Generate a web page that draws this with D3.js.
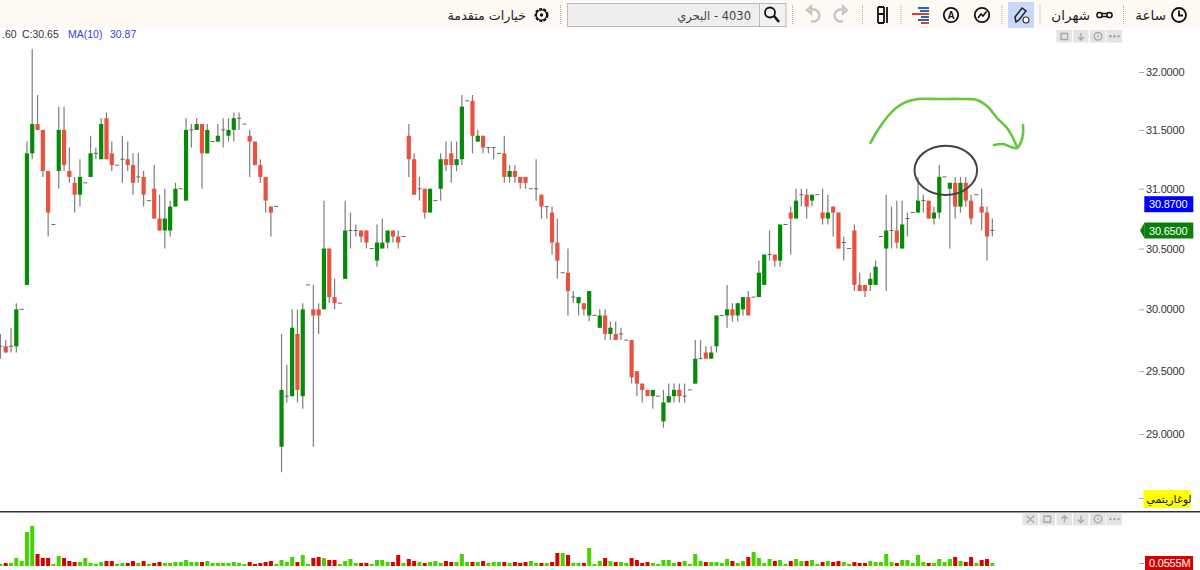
<!DOCTYPE html>
<html lang="ar">
<head>
<meta charset="utf-8">
<style>
html,body{margin:0;padding:0;background:#fff;overflow:hidden}
svg{display:block}
text{font-family:"Liberation Sans",Arial,sans-serif}
.ar{font-family:"DejaVu Sans","Noto Sans",sans-serif}
</style>
<script src="https://cdn.jsdelivr.net/npm/d3@7/dist/d3.min.js"></script>
</head>
<body>
<svg id="c" width="1200" height="570"></svg>
<script>
const priceTicks=[32,31.5,31,30.5,30,29.5,29,28.5];
const opens=[29.7,29.7,29.7,29.7,30.0,30.2,31.3,31.55,31.5,31.15,
30.7,31.15,31.5,31.15,31.05,30.95,31.05,31.1,31.3,31.25,
31.6,31.3,31.2,31.25,31.25,31.2,31.1,31.1,30.9,31.0,
30.75,30.65,30.65,30.85,31.0,30.9,31.5,31.5,31.55,31.3,
31.4,31.4,31.5,31.45,31.5,31.6,31.55,31.45,31.4,31.2,
31.1,30.85,30.85,28.9,29.3,29.3,29.8,29.3,30.2,30.0,
30.0,30.0,30.5,30.1,30.05,30.25,30.65,30.65,30.65,30.65,
30.5,30.4,30.5,30.55,30.65,30.6,30.6,31.45,31.25,31.0,
31.0,30.8,30.9,31.0,31.25,31.3,31.2,31.25,31.75,31.75,
31.4,31.45,31.35,31.35,31.3,31.3,31.1,31.15,31.1,31.1,
31.0,31.0,30.95,30.85,30.8,30.55,30.3,30.3,30.1,30.05,
30.05,29.95,29.95,29.85,29.95,29.8,29.8,29.8,29.75,29.75,
29.5,29.4,29.35,29.3,29.3,29.1,29.25,29.3,29.35,29.3,
29.35,29.4,29.6,29.65,29.6,29.7,29.95,29.95,30.0,29.95,
30.0,30.1,30.1,30.1,30.2,30.45,30.45,30.4,30.7,30.8,
30.75,30.95,30.95,30.9,30.95,30.8,30.75,30.85,30.8,30.55,
30.5,30.65,30.2,30.2,30.2,30.2,30.6,30.5,30.65,30.65,
30.5,30.75,30.8,30.8,30.9,30.9,30.75,30.8,31.1,31.0,
31.05,30.85,31.05,30.9,30.95,30.85,30.8,30.65];
const closes=[29.7,29.65,29.7,30.0,30.0,31.3,31.55,31.5,31.15,30.8,
30.7,31.5,31.2,31.1,30.95,31.1,31.05,31.3,31.3,31.55,
31.25,31.2,31.2,31.25,31.2,31.05,31.1,30.95,30.9,30.75,
30.65,30.75,30.85,31.0,31.0,31.5,31.5,31.55,31.3,31.5,
31.4,31.45,31.5,31.5,31.6,31.6,31.55,31.4,31.2,31.1,
30.9,30.8,30.85,29.35,29.3,29.85,29.35,30.0,30.2,29.95,
29.95,30.5,30.1,30.05,30.05,30.65,30.65,30.65,30.6,30.55,
30.5,30.55,30.55,30.65,30.6,30.55,30.6,31.25,30.95,31.0,
30.8,31.0,30.9,31.25,31.2,31.2,31.25,31.7,31.75,31.45,
31.45,31.35,31.35,31.35,31.3,31.1,31.15,31.1,31.05,31.05,
31.0,31.0,30.85,30.85,30.55,30.4,30.3,30.15,30.1,30.1,
30.0,30.15,29.95,29.95,29.8,29.85,29.75,29.8,29.75,29.45,
29.4,29.35,29.3,29.35,29.3,29.25,29.3,29.35,29.3,29.3,
29.35,29.6,29.6,29.6,29.65,29.95,29.95,30.0,29.95,30.05,
30.1,29.95,30.1,30.3,30.45,30.45,30.4,30.7,30.7,30.75,
30.9,30.95,30.85,30.95,30.95,30.75,30.8,30.8,30.5,30.55,
30.5,30.2,30.15,30.15,30.25,30.35,30.6,30.65,30.65,30.55,
30.7,30.75,30.8,30.9,30.9,30.75,30.8,31.1,31.1,31.05,
30.85,31.05,30.9,30.75,30.95,30.8,30.6,30.65];
const highs=[29.8,29.75,29.85,30.05,30.0,31.4,32.2,31.8,31.5,31.15,
30.7,31.7,31.7,31.35,31.1,31.25,31.05,31.45,31.35,31.6,
31.65,31.4,31.2,31.45,31.4,31.3,31.3,31.15,30.9,31.2,
30.95,31.0,30.9,31.05,31.0,31.6,31.55,31.6,31.55,31.55,
31.4,31.55,31.6,31.6,31.65,31.65,31.55,31.5,31.4,31.25,
31.1,30.85,30.85,29.8,29.55,30.0,30.0,30.05,30.2,30.2,
30.05,30.9,30.5,30.25,30.05,30.9,30.8,30.7,30.65,30.65,
30.5,30.7,30.75,30.65,30.65,30.65,30.6,31.55,31.3,31.1,
31.0,31.0,30.9,31.3,31.4,31.4,31.4,31.8,31.75,31.8,
31.5,31.45,31.35,31.35,31.3,31.45,31.2,31.2,31.1,31.1,
31.0,31.25,30.95,30.85,30.85,30.75,30.3,30.5,30.15,30.1,
30.05,30.15,29.95,30.0,30.0,29.9,29.9,29.85,29.75,29.75,
29.5,29.4,29.35,29.35,29.3,29.35,29.4,29.4,29.4,29.4,
29.35,29.75,29.75,29.7,29.7,29.95,29.95,30.2,30.05,30.05,
30.1,30.15,30.1,30.4,30.45,30.65,30.45,30.7,30.7,30.85,
31.0,31.0,31.0,30.95,30.95,31.0,30.95,30.85,30.8,30.6,
30.5,30.7,30.3,30.2,30.3,30.4,30.6,30.95,30.85,30.9,
30.9,30.8,30.8,31.1,30.95,30.9,30.85,31.2,31.1,31.05,
31.1,31.1,31.1,30.95,30.95,31.0,30.85,30.75];
const lows=[29.6,29.65,29.65,29.65,30.0,30.2,31.25,31.5,31.1,30.6,
30.7,31.0,31.15,31.05,30.8,30.85,31.05,31.1,31.25,31.25,
31.25,31.15,31.2,31.05,31.15,30.95,31.05,30.85,30.9,30.75,
30.65,30.5,30.6,30.85,31.0,30.9,31.35,31.5,31.0,31.3,
31.4,31.4,31.35,31.4,31.4,31.5,31.55,31.1,31.2,31.05,
30.8,30.6,30.85,28.7,29.25,29.3,29.25,29.2,30.2,28.9,
29.8,30.0,30.05,30.0,30.05,30.25,30.5,30.6,30.55,30.5,
30.5,30.35,30.5,30.5,30.55,30.5,30.6,31.1,30.95,30.9,
30.75,30.8,30.9,30.9,31.15,31.05,31.15,31.2,31.75,31.3,
31.4,31.3,31.3,31.25,31.3,31.05,31.05,31.05,31.0,31.0,
31.0,30.9,30.75,30.75,30.45,30.25,30.3,29.95,30.05,29.95,
29.95,29.9,29.95,29.85,29.75,29.75,29.75,29.75,29.75,29.4,
29.3,29.25,29.3,29.2,29.3,29.05,29.25,29.25,29.25,29.25,
29.35,29.4,29.6,29.6,29.6,29.65,29.95,29.85,29.9,29.9,
29.95,29.95,30.1,30.1,30.2,30.4,30.35,30.35,30.7,30.45,
30.75,30.85,30.75,30.85,30.95,30.7,30.7,30.6,30.5,30.4,
30.5,30.15,30.15,30.1,30.15,30.2,30.6,30.15,30.5,30.5,
30.5,30.6,30.8,30.8,30.8,30.75,30.7,30.75,31.1,30.5,
30.75,30.8,30.85,30.7,30.95,30.65,30.4,30.6];
const volumesM=[.037,.0555,.0555,.148,.0925,.629,.74,.222,.148,.148,
.037,.185,.148,.0925,.074,.074,.148,.0555,.037,.074,
.0925,.0925,.037,.0555,.0555,.0925,.0555,.0925,.037,.0555,
.074,.0555,.0555,.074,.074,.111,.074,.074,.074,.0925,
.0555,.0555,.0555,.0555,.074,.0555,.037,.074,.037,.0555,
.074,.0925,.037,.111,.074,.1665,.074,.2035,.037,.148,
.1665,.148,.111,.111,.037,.0925,.1295,.0555,.0555,.0555,
.037,.111,.111,.074,.074,.2035,.0555,.1295,.0925,.074,
.0555,.074,.0925,.0555,.0925,.074,.074,.222,.074,.074,
.074,.0925,.0555,.074,.074,.074,.0555,.074,.0555,.074,
.0925,.0555,.0555,.0555,.074,.2405,.2405,.2035,.0555,.0555,
.0555,.333,.037,.0925,.148,.0925,.074,.074,.0555,.148,
.111,.0555,.074,.0555,.037,.111,.111,.0555,.074,.0925,
.037,.222,.0925,.074,.074,.074,.0555,.1295,.0925,.0555,
.0925,.1665,.259,.148,.0555,.1295,.0925,.111,.037,.0925,
.1295,.0925,.0925,.111,.037,.074,.0925,.074,.0925,.074,
.037,.074,.0555,.0555,.0925,.074,.074,.222,.074,.0555,
.111,.111,.0555,.2035,.074,.0555,.0555,.1295,.074,.1295,
.1665,.0925,.074,.1665,.0555,.111,.1295,.0555];
const lastVolume=0.0555, movingAverage=30.87, lastClose=30.65;
const arrowStroke=[[870.5,143],[876,133],[882,124],[888,116],[896,108],[906,102],[918,99],[940,99],[960,99],[977,100],[988,107],[997,118],[1007,128],[1013,138],[1017,147]];
const arrowBarb=[[994,145],[1003,144],[1011,147],[1017,148],[1021,142],[1023,134],[1023,125]];

const GREEN="#078a07",RED="#e8523e",WICK="#7d7d7d",VG="#45d400",VR="#d90000";
const svg=d3.select("#c");
const x=d3.scaleLinear().domain([0,opens.length-1]).range([0.4,992.3]);
const y=d3.scaleLog().domain([29,32]).range([434,72]);
const yV=d3.scaleLinear().domain([0,0.74]).range([566,526]);
const idx=d3.range(opens.length);
const up=i=>closes[i]>=opens[i];

svg.append("rect").attr("width",1200).attr("height",28).attr("fill","#fff9f4");

svg.append("g").selectAll("line").data(idx.filter(i=>highs[i]!==lows[i])).join("line")
 .attr("x1",i=>x(i)).attr("x2",i=>x(i)).attr("y1",i=>y(highs[i])).attr("y2",i=>y(lows[i]))
 .attr("stroke",WICK).attr("stroke-width",1.2);
svg.append("g").selectAll("rect").data(idx.filter(i=>opens[i]!==closes[i])).join("rect")
 .attr("x",i=>x(i)-2.1).attr("width",4.2)
 .attr("y",i=>y(Math.max(opens[i],closes[i])))
 .attr("height",i=>Math.abs(y(opens[i])-y(closes[i])))
 .attr("fill",i=>up(i)?GREEN:RED);
svg.append("g").selectAll("line").data(idx.filter(i=>opens[i]===closes[i])).join("line")
 .attr("x1",i=>x(i)-2).attr("x2",i=>x(i)+2).attr("y1",i=>y(opens[i])).attr("y2",i=>y(opens[i]))
 .attr("stroke","#666").attr("stroke-width",1);

svg.append("g").selectAll("rect").data(idx).join("rect")
 .attr("x",i=>x(i)-2).attr("width",4)
 .attr("y",i=>yV(volumesM[i])).attr("height",i=>566-yV(volumesM[i]))
 .attr("fill",i=>up(i)?VG:VR);

svg.append("line").attr("x1",0).attr("x2",1200).attr("y1",511.7).attr("y2",511.7).attr("stroke","#333").attr("stroke-width",1.4);

const axP=svg.append("g").attr("transform","translate(1139,0)")
 .call(d3.axisRight(y).tickValues(priceTicks).tickSize(5).tickPadding(2).tickFormat(d=>d3.format(".4f")(d)));
axP.select(".domain").remove();
axP.selectAll("line").attr("stroke","#aaa");
axP.selectAll("text").attr("font-size",11).attr("fill","#333").attr("font-family","Liberation Sans").attr("letter-spacing","-0.2");
axP.selectAll(".tick").filter(d=>d===28.5).select("text").remove();

const axV=svg.append("g").attr("transform","translate(1139,0)")
 .call(d3.axisRight(yV).tickValues([lastVolume]).tickSize(5).tickFormat(()=>""));
axV.select(".domain").remove();
axV.selectAll("line").attr("stroke","#aaa");

const tag=(bx,by,w,h,fill,col,txt,tx)=>{
 svg.append("rect").attr("x",bx).attr("y",by).attr("width",w).attr("height",h).attr("fill",fill);
 svg.append("text").attr("x",tx).attr("y",by+h/2+4).attr("fill",col).attr("font-size",11).attr("letter-spacing","-0.2").text(txt);
};
tag(1144.3,y(movingAverage)-8,49,16,"#0000ff","#fff",d3.format(".4f")(movingAverage),1149);
svg.append("path").attr("d",`M1140,${y(lastClose)}L1144.5,${y(lastClose)-8}V${y(lastClose)+8}Z`).attr("fill","#0a800a");
tag(1144.3,y(lastClose)-8,49,16,"#0a800a","#fff",d3.format(".4f")(lastClose),1149);
svg.append("rect").attr("x",1143.5).attr("y",490).attr("width",47).attr("height",18).attr("fill","#ffff00");
svg.append("text").attr("class","ar").attr("x",1169).attr("y",503).attr("text-anchor","middle").attr("font-size",11).attr("fill","#111").text("لوغاريتمي");
svg.append("rect").attr("x",1145).attr("y",556).attr("width",48).attr("height",14).attr("fill","#d90000");
svg.append("text").attr("x",1149).attr("y",567).attr("font-size",11).attr("letter-spacing","-0.2").attr("fill","#fff").text(lastVolume.toFixed(4)+"M");

[[2,".60","#333"],[22,"C:"+lastClose.toFixed(2),"#333"],[68,"MA(10)","#3a3af0"],[110,movingAverage.toFixed(2),"#3a3af0"]]
 .forEach(([px,t,c])=>svg.append("text").attr("x",px).attr("y",38).attr("font-size",10.5).attr("fill",c).text(t));

const ln=d3.line().curve(d3.curveCatmullRom);
svg.append("g").attr("fill","none").attr("stroke","#62c93c").attr("stroke-width",2.6).attr("stroke-linecap","round")
 .selectAll("path").data([arrowStroke,arrowBarb]).join("path").attr("d",d=>ln(d));
svg.append("ellipse").attr("cx",945.8).attr("cy",170.3).attr("rx",31.3).attr("ry",24.6)
 .attr("fill","none").attr("stroke","#444").attr("stroke-width",2);

const btn=(bx,by,kind)=>{
 const g=svg.append("g").attr("transform",`translate(${bx},${by})`);
 g.append("rect").attr("width",15.5).attr("height",12.5).attr("fill","#e4e4e4");
 const s={fill:"none",stroke:"#a8a8a8","stroke-width":1.4};
 const p=d=>{const e=g.append("path").attr("d",d);Object.entries(s).forEach(([k,v])=>e.attr(k,v));};
 if(kind==="x")p("M4,3L11.5,10M11.5,3L4,10");
 if(kind==="box")p("M4.5,3.5H11V9.5H4.5Z");
 if(kind==="up")p("M8,10V3M5,6L8,3L11,6");
 if(kind==="down")p("M8,3V10M5,7L8,10L11,7");
 if(kind==="gear"){g.append("circle").attr("cx",8).attr("cy",6.3).attr("r",3.8).attr("fill","none").attr("stroke","#a8a8a8").attr("stroke-width",1.4);g.append("circle").attr("cx",8).attr("cy",6.3).attr("r",1).attr("fill","#a8a8a8");}
 if(kind==="dots")[4,8,12].forEach(c=>g.append("circle").attr("cx",c).attr("cy",6.3).attr("r",1.2).attr("fill","#a0a0a0"));
};
[["box",1056.5],["down",1073],["gear",1090],["dots",1106.5]].forEach(([k,bx])=>btn(bx,30,k));
[["x",1022.5],["box",1039.5],["up",1056.5],["down",1073],["gear",1090],["dots",1106.5]].forEach(([k,bx])=>btn(bx,512.8,k));

const tb=svg.append("g");
const sep=sx=>tb.append("line").attr("x1",sx).attr("x2",sx).attr("y1",5).attr("y2",25).attr("stroke","#aaa").attr("stroke-dasharray","1,1");
[560.5,792.5,862.5,901,1002,1040,1123.5].forEach(sep);
tb.append("rect").attr("x",567.5).attr("y",3.5).attr("width",192).attr("height",23).attr("fill","#eeeeee").attr("stroke","#bbb");
tb.append("rect").attr("x",759.5).attr("y",3.5).attr("width",26.5).attr("height",23).attr("fill","#f2f2f2").attr("stroke","#bbb");
tb.append("rect").attr("x",1008).attr("y",2).attr("width",26).attr("height",26).attr("fill","#c8d8fb");
const tt=(tx,t,sz,col)=>tb.append("text").attr("class","ar").attr("x",tx).attr("y",20).attr("text-anchor","end").attr("font-size",sz).attr("fill",col||"#222").text(t);
tt(1166,"ساعة",13.5);
tt(1090,"شهران",13.5);
tt(526,"خيارات متقدمة",12.7);
tb.append("text").attr("x",751).attr("y",19.5).attr("direction","rtl").attr("text-anchor","start").attr("font-size",11.5).attr("fill","#444").attr("class","ar").text("4030 - البحري");
const ic=(d,c,w)=>tb.append("path").attr("d",d).attr("fill","none").attr("stroke",c||"#111").attr("stroke-width",w||1.8);
const circ=(cx,r,c,w)=>tb.append("circle").attr("cx",cx).attr("cy",15).attr("r",r).attr("fill","none").attr("stroke",c||"#111").attr("stroke-width",w||1.8);
circ(1179,7);ic("M1179,10.5V15.5H1183");
ic("M1100,13.5H1109M1100,16.5H1109",null,1.3);
tb.append("circle").attr("cx",1099.5).attr("cy",15).attr("r",2.6).attr("fill","#fff9f4").attr("stroke","#111").attr("stroke-width",1.5);
tb.append("circle").attr("cx",1109.5).attr("cy",15).attr("r",2.6).attr("fill","#fff9f4").attr("stroke","#111").attr("stroke-width",1.5);
ic("M1016,22L1015,17L1022,8L1026,11L1019,20Z","#222",1.5);
tb.append("circle").attr("cx",1026).attr("cy",20).attr("r",3).attr("fill","#fff").attr("stroke","#333").attr("stroke-width",1.1);
circ(982,7.2);ic("M978,18L981,14L983,16L986.5,11.5",null,1.5);
circ(951,7.2);tb.append("text").attr("x",951).attr("y",18.8).attr("text-anchor","middle").attr("font-size",10).attr("font-weight","bold").attr("fill","#111").text("A");
[[918,7,"#2d5fc4"],[920,10,"#2d5fc4"],[912,13,"#d8402a"],[921,16,"#2d5fc4"],[918,19,"#2d5fc4"],[921,22,"#d8402a"]].forEach(([bx,by,c])=>tb.append("rect").attr("x",bx).attr("y",by).attr("width",929-bx).attr("height",2).attr("fill",c));
ic("M878,7V23M884,7V23M878,7H884M878,14H884M878,23H884",null,1.8);
ic("M887,7V23",null,1.8);
ic("M807,10L811,6.5L811,13.5ZM811,10A6,6 0 1 1 811,21","#c4c4c4",2.2);
ic("M847,10L843,6.5L843,13.5ZM843,10A6,6 0 1 0 843,21","#c4c4c4",2.2);
tb.append("circle").attr("cx",770).attr("cy",12.5).attr("r",5).attr("fill","none").attr("stroke","#111").attr("stroke-width",1.8);
ic("M774,16L779,22",null,2.6);
circ(541.5,6,"#111",2).attr("stroke-dasharray","3,1.2");
tb.append("circle").attr("cx",541.5).attr("cy",15).attr("r",5.2).attr("fill","none").attr("stroke","#111").attr("stroke-width",1.2);
tb.append("circle").attr("cx",541.5).attr("cy",15).attr("r",1.7).attr("fill","#111");
</script>
</body>
</html>
